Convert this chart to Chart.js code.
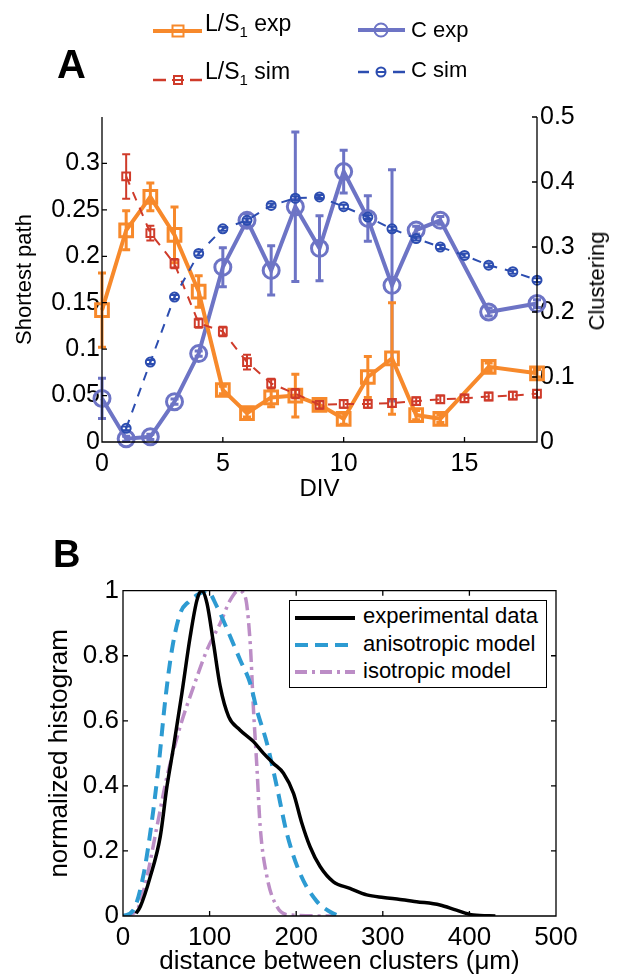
<!DOCTYPE html>
<html><head><meta charset="utf-8">
<script src="https://cdn.jsdelivr.net/npm/chart.js@4.4.1/dist/chart.umd.min.js"></script>
<style>
html,body{margin:0;padding:0;background:#fff;}
body{width:620px;height:979px;position:relative;overflow:hidden;font-family:'Liberation Sans',Arial,sans-serif;color:#000;}
.abs{position:absolute;white-space:nowrap;}
.t22{font-size:22px;line-height:22px;}
.t23{font-size:23px;line-height:23px;}
sub{font-size:15px;line-height:0;vertical-align:-6px;}
canvas{position:absolute;left:0;}
</style></head><body>
<canvas id="cA" width="620" height="510" style="top:0"></canvas>
<canvas id="cB" width="620" height="469" style="top:510px"></canvas>

<div class="abs" style="left:57px;top:44px;font-weight:bold;font-size:40px;line-height:40px;">A</div>
<div class="abs" style="left:53px;top:535px;font-weight:bold;font-size:38px;line-height:38px;">B</div>

<svg class="abs" style="left:0;top:0" width="620" height="100">
  <line x1="153" y1="31" x2="202" y2="31" stroke="#F7892B" stroke-width="4"/>
  <rect x="172.5" y="25.5" width="11" height="11" fill="none" stroke="#F7892B" stroke-width="2"/>
  <line x1="153" y1="80" x2="166" y2="80" stroke="#CF3B2A" stroke-width="2.5"/>
  <line x1="172" y1="80" x2="184" y2="80" stroke="#CF3B2A" stroke-width="2"/>
  <line x1="190" y1="80" x2="202" y2="80" stroke="#CF3B2A" stroke-width="2.5"/>
  <rect x="174" y="76" width="8" height="8" fill="none" stroke="#CF3B2A" stroke-width="2"/>
  <line x1="358" y1="30" x2="405" y2="30" stroke="#6D74C5" stroke-width="4"/>
  <circle cx="381" cy="30" r="6.5" fill="none" stroke="#6D74C5" stroke-width="2"/>
  <line x1="358" y1="72" x2="369" y2="72" stroke="#2C4DB0" stroke-width="2.5"/>
  <line x1="376" y1="72" x2="386" y2="72" stroke="#2C4DB0" stroke-width="2"/>
  <line x1="393" y1="72" x2="405" y2="72" stroke="#2C4DB0" stroke-width="2.5"/>
  <circle cx="381" cy="72" r="4.5" fill="none" stroke="#2C4DB0" stroke-width="2"/>
</svg>
<div class="abs t23" style="left:205px;top:12px;">L/S<sub>1</sub> exp</div>
<div class="abs t23" style="left:205px;top:60px;">L/S<sub>1</sub> sim</div>
<div class="abs t22" style="left:411px;top:19px;">C exp</div>
<div class="abs t22" style="left:411px;top:59px;">C sim</div>

<div class="abs t22" style="left:597px;top:281px;transform:translate(-50%,-50%) rotate(-90deg);">Clustering</div>

<div class="abs" style="left:289px;top:600px;width:258px;height:88px;box-sizing:border-box;border:1.5px solid #000;background:#fff;"></div>
<svg class="abs" style="left:289px;top:600px" width="80" height="88">
  <line x1="6" y1="18" x2="66" y2="18" stroke="#000" stroke-width="4"/>
  <line x1="6" y1="45" x2="66" y2="45" stroke="#2D9BD2" stroke-width="4" stroke-dasharray="13 7"/>
  <line x1="6" y1="72" x2="66" y2="72" stroke="#BC8DC6" stroke-width="4" stroke-dasharray="12 5 3 5"/>
</svg>
<div class="abs t22" style="left:363px;top:605px;">experimental data</div>
<div class="abs t22" style="left:363px;top:633px;">anisotropic model</div>
<div class="abs t22" style="left:363px;top:660px;">isotropic model</div>

<script>
// ---------- Panel A data ----------
const divExp   = [0, 1, 2, 3, 4, 5, 6, 7, 8, 9, 10, 11, 12, 13, 14, 16, 18];
const lsExp    = [0.142, 0.228, 0.264, 0.223, 0.162, 0.056, 0.031, 0.048, 0.050, 0.040, 0.025, 0.070, 0.090, 0.029, 0.025, 0.081, 0.074];
const lsExpErr = [0.040, 0.021, 0.015, 0.030, 0.017, 0.004, 0.004, 0.010, 0.023, 0.006, 0.006, 0.022, 0.060, 0.005, 0.004, 0.004, 0.004];
const cExp     = [0.067, 0.005, 0.008, 0.062, 0.136, 0.269, 0.341, 0.264, 0.362, 0.298, 0.416, 0.344, 0.241, 0.326, 0.341, 0.200, 0.213];
const cExpErr  = [0.031, 0.004, 0.004, 0.004, 0.004, 0.030, 0.010, 0.038, 0.115, 0.050, 0.033, 0.035, 0.178, 0.006, 0.006, 0.006, 0.006];
const divSim   = [1, 2, 3, 4, 5, 6, 7, 8, 9, 10, 11, 12, 13, 14, 15, 16, 17, 18];
const lsSim    = [0.286, 0.225, 0.192, 0.128, 0.119, 0.086, 0.063, 0.052, 0.040, 0.041, 0.041, 0.042, 0.044, 0.046, 0.047, 0.049, 0.050, 0.052];
const lsSimErr = [0.024, 0.008, 0.005, 0.005, 0.005, 0.008, 0.005, 0.005, 0.004, 0.004, 0.004, 0.004, 0.004, 0.004, 0.004, 0.004, 0.004, 0.004];
const cSim     = [0.021, 0.123, 0.223, 0.290, 0.328, 0.341, 0.364, 0.375, 0.377, 0.362, 0.346, 0.328, 0.313, 0.300, 0.287, 0.272, 0.262, 0.249];
const cSimErr  = [0.003, 0.003, 0.003, 0.003, 0.003, 0.003, 0.003, 0.003, 0.003, 0.003, 0.003, 0.003, 0.003, 0.003, 0.003, 0.003, 0.003, 0.003];
const tickDivA   = [0, 5, 10, 15];
const tickLeftA  = [0, 0.05, 0.1, 0.15, 0.2, 0.25, 0.3];
const tickRightA = [0, 0.1, 0.2, 0.3, 0.4, 0.5];

// ---------- Panel B data ----------
const expD   = [15, 20, 31.5, 43, 50.7, 58.4, 68, 77.6, 85.4, 91, 97, 104.5, 112.3, 122, 135, 150.7, 162.3, 173.8, 185.3, 196.9, 206, 216, 227.6, 243, 262, 281.5, 300.7, 320, 339, 366, 385, 404.5, 430];
const expV   = [0.008, 0.029, 0.121, 0.244, 0.397, 0.52, 0.685, 0.859, 0.971, 1.0, 0.961, 0.838, 0.705, 0.613, 0.572, 0.536, 0.5, 0.469, 0.439, 0.377, 0.29, 0.213, 0.152, 0.105, 0.085, 0.065, 0.057, 0.051, 0.044, 0.034, 0.018, 0.003, 0];
const anisoD = [0, 12, 24, 33.5, 41, 48.8, 56.5, 66, 75.7, 89, 97, 108.5, 123.8, 135.3, 146.9, 154.6, 166.2, 177.7, 189.2, 204.6, 223.8, 239, 249];
const anisoV = [0, 0.018, 0.131, 0.295, 0.459, 0.664, 0.818, 0.93, 0.966, 0.992, 1.0, 0.951, 0.859, 0.787, 0.715, 0.633, 0.531, 0.397, 0.254, 0.13, 0.045, 0.013, 0];
const isoD   = [0, 16, 27.7, 39.2, 50.8, 66, 81.5, 97, 112.3, 123.8, 133.4, 141, 146.9, 150.7, 154.6, 158.4, 166.2, 177.7, 193, 243];
const isoV   = [0, 0.018, 0.121, 0.275, 0.428, 0.582, 0.705, 0.818, 0.9, 0.971, 1.0, 0.982, 0.838, 0.633, 0.459, 0.275, 0.121, 0.029, 0.003, 0];
const tickDistB = [0, 100, 200, 300, 400, 500];
const tickHistB = [0, 0.2, 0.4, 0.6, 0.8, 1];

const ORANGE = '#F7892B', RED = '#CF3B2A', PBLUE = '#6D74C5', BLUE = '#2C4DB0';
const ANISO = '#2D9BD2', ISO = '#BC8DC6';

Chart.defaults.font.family = "'Liberation Sans', Arial, sans-serif";
Chart.defaults.color = '#000';

const pts = (xs, ys) => xs.map((x, i) => ({x: x, y: ys[i]}));
const fmt = v => String(+Number(v).toFixed(2));
const setTicks = arr => (s => { s.ticks = arr.map(v => ({value: v})); });

const axesPlugin = {
  id: 'matAxes',
  afterDatasetsDraw(chart, args, opts) {
    const {ctx, chartArea: a, scales} = chart;
    const L = 5;
    ctx.save();
    ctx.strokeStyle = '#000';
    ctx.lineWidth = 1.3;
    ctx.setLineDash([]);
    ctx.beginPath();
    if (opts.box) {
      ctx.rect(a.left, a.top, a.right - a.left, a.bottom - a.top);
    } else {
      ctx.moveTo(a.left, a.top); ctx.lineTo(a.left, a.bottom);
      ctx.lineTo(a.right, a.bottom); ctx.lineTo(a.right, a.top);
    }
    scales.x.ticks.forEach(t => {
      const px = scales.x.getPixelForValue(t.value);
      ctx.moveTo(px, a.bottom); ctx.lineTo(px, a.bottom - L);
      if (opts.box) { ctx.moveTo(px, a.top); ctx.lineTo(px, a.top + L); }
    });
    scales.y.ticks.forEach(t => {
      const py = scales.y.getPixelForValue(t.value);
      ctx.moveTo(a.left, py); ctx.lineTo(a.left + L, py);
      if (opts.box) { ctx.moveTo(a.right, py); ctx.lineTo(a.right - L, py); }
    });
    if (scales.y1) scales.y1.ticks.forEach(t => {
      const py = scales.y1.getPixelForValue(t.value);
      ctx.moveTo(a.right, py); ctx.lineTo(a.right - L, py);
    });
    ctx.stroke();
    ctx.restore();
  }
};

const errPlugin = {
  id: 'errBars',
  beforeDatasetDraw(chart, args) {
    const ds = chart.data.datasets[args.index];
    if (!ds.errs) return;
    const meta = args.meta;
    const ys = chart.scales[meta.yAxisID];
    const ctx = chart.ctx;
    const c = 4;
    ctx.save();
    ctx.strokeStyle = ds.borderColor;
    ctx.lineWidth = ds.errWidth;
    ctx.setLineDash([]);
    ctx.beginPath();
    meta.data.forEach((p, i) => {
      const d = ds.data[i], e = ds.errs[i];
      const y1 = ys.getPixelForValue(d.y - e), y2 = ys.getPixelForValue(d.y + e);
      ctx.moveTo(p.x, y1); ctx.lineTo(p.x, y2);
      ctx.moveTo(p.x - c, y1); ctx.lineTo(p.x + c, y1);
      ctx.moveTo(p.x - c, y2); ctx.lineTo(p.x + c, y2);
    });
    ctx.stroke();
    ctx.restore();
  }
};

new Chart(document.getElementById('cA'), {
  type: 'line',
  data: {
    datasets: [
      { label: 'C exp', data: pts(divExp, cExp), errs: cExpErr, errWidth: 3, yAxisID: 'y1', clip: false,
        borderColor: PBLUE, borderWidth: 4, pointStyle: 'circle', pointRadius: 8, pointBorderWidth: 3,
        pointBorderColor: PBLUE, pointBackgroundColor: 'rgba(0,0,0,0)', order: 4 },
      { label: 'L/S1 exp', data: pts(divExp, lsExp), errs: lsExpErr, errWidth: 3, yAxisID: 'y', clip: false,
        borderColor: ORANGE, borderWidth: 4, pointStyle: 'rect', pointRadius: 9, pointBorderWidth: 3,
        pointBorderColor: ORANGE, pointBackgroundColor: 'rgba(0,0,0,0)', order: 3 },
      { label: 'L/S1 sim', data: pts(divSim, lsSim), errs: lsSimErr, errWidth: 2, yAxisID: 'y', clip: false,
        borderColor: RED, borderWidth: 2, borderDash: [9, 8], pointStyle: 'rect', pointRadius: 5.5, pointBorderWidth: 2,
        pointBorderColor: RED, pointBackgroundColor: 'rgba(0,0,0,0)', order: 2 },
      { label: 'C sim', data: pts(divSim, cSim), errs: cSimErr, errWidth: 2, yAxisID: 'y1', clip: false,
        borderColor: BLUE, borderWidth: 2, borderDash: [9, 8], pointStyle: 'circle', pointRadius: 4.5, pointBorderWidth: 2,
        pointBorderColor: BLUE, pointBackgroundColor: 'rgba(0,0,0,0)', order: 1 }
    ]
  },
  options: {
    responsive: false, animation: false, devicePixelRatio: 1,
    layout: { padding: { top: 117, left: 0, right: 0, bottom: 0 } },
    plugins: { legend: { display: false }, tooltip: { enabled: false }, matAxes: { box: false } },
    scales: {
      x: { type: 'linear', min: 0, max: 18, afterBuildTicks: setTicks(tickDivA), afterFit: s => { s.height = 68; },
        grid: { display: false, drawTicks: false }, border: { display: false },
        ticks: { autoSkip: false, maxRotation: 0, font: { size: 25 }, color: '#000', padding: 7.6, callback: v => fmt(v) },
        title: { display: true, text: 'DIV', color: '#000', font: { size: 24 }, padding: { top: 0, bottom: 6 } } },
      y: { type: 'linear', position: 'left', min: 0, max: 0.35, afterBuildTicks: setTicks(tickLeftA), afterFit: s => { s.width = 102; },
        grid: { display: false, drawTicks: false }, border: { display: false },
        ticks: { autoSkip: false, font: { size: 25 }, color: '#000', padding: 2, callback: v => fmt(v) },
        title: { display: true, text: 'Shortest path', color: '#000', font: { size: 22 }, padding: { top: 12, bottom: 0 } } },
      y1: { type: 'linear', position: 'right', min: 0, max: 0.5, afterBuildTicks: setTicks(tickRightA), afterFit: s => { s.width = 83; },
        grid: { display: false, drawTicks: false }, border: { display: false },
        ticks: { autoSkip: false, font: { size: 25 }, color: '#000', padding: 3, callback: v => fmt(v) } }
    }
  },
  plugins: [errPlugin, axesPlugin]
});

new Chart(document.getElementById('cB'), {
  type: 'line',
  data: {
    datasets: [
      { label: 'experimental data', data: pts(expD, expV), borderColor: '#000', borderWidth: 3.5,
        pointRadius: 0, cubicInterpolationMode: 'monotone', order: 1 },
      { label: 'anisotropic model', data: pts(anisoD, anisoV), borderColor: ANISO, borderWidth: 4, borderDash: [13, 8],
        pointRadius: 0, cubicInterpolationMode: 'monotone', order: 2 },
      { label: 'isotropic model', data: pts(isoD, isoV), borderColor: ISO, borderWidth: 3.5, borderDash: [13, 5, 3, 5],
        pointRadius: 0, cubicInterpolationMode: 'monotone', order: 3 }
    ]
  },
  options: {
    responsive: false, animation: false, devicePixelRatio: 1,
    layout: { padding: { top: 80.7, left: 0, right: 64, bottom: 0 } },
    plugins: { legend: { display: false }, tooltip: { enabled: false }, matAxes: { box: true } },
    scales: {
      x: { type: 'linear', min: 0, max: 500, afterBuildTicks: setTicks(tickDistB), afterFit: s => { s.height = 63; },
        grid: { display: false, drawTicks: false }, border: { display: false },
        ticks: { autoSkip: false, maxRotation: 0, font: { size: 26 }, color: '#000', padding: 6.4, callback: v => fmt(v) },
        title: { display: true, text: 'distance between clusters (\u03bcm)', color: '#000', font: { size: 26 }, padding: { top: 0, bottom: 1.4 } } },
      y: { type: 'linear', position: 'left', min: 0, max: 1, afterBuildTicks: setTicks(tickHistB), afterFit: s => { s.width = 123; },
        grid: { display: false, drawTicks: false }, border: { display: false },
        ticks: { autoSkip: false, font: { size: 26 }, color: '#000', padding: 4, callback: v => fmt(v) },
        title: { display: true, text: 'normalized histogram', color: '#000', font: { size: 26 }, padding: { top: 44, bottom: 0 } } }
    }
  },
  plugins: [axesPlugin]
});
</script>
</body></html>
